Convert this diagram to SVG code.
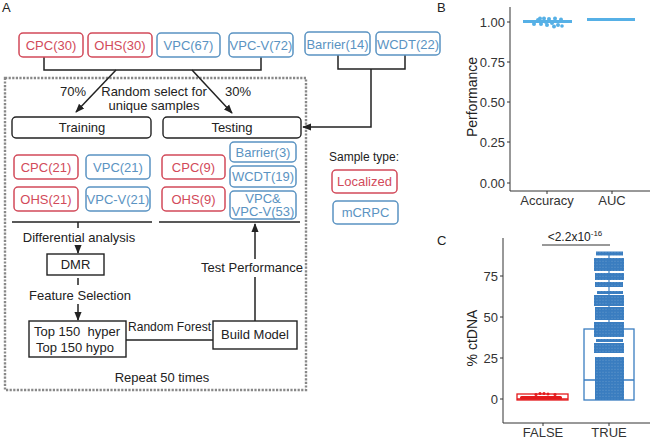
<svg xmlns="http://www.w3.org/2000/svg" width="650" height="439" viewBox="0 0 650 439">
<style>
text{font-family:"Liberation Sans",Arial,sans-serif;fill:#222}
.t13{font-size:13px}
.t12{font-size:12px}
.mid{text-anchor:middle}
.end{text-anchor:end}
.rb{fill:#fff;stroke:#d24a5a;stroke-width:1.5}
.bb{fill:#fff;stroke:#5a93c2;stroke-width:1.5}
.rt{fill:#d24a5a;font-size:13px;text-anchor:middle}
.bt{fill:#5a93c2;font-size:13px;text-anchor:middle}
.kb{fill:#fff;stroke:#222;stroke-width:1.4}
.ln{fill:none;stroke:#222;stroke-width:1.5}
.ax{fill:none;stroke:#333;stroke-width:1}
.tk{fill:#333;font-size:13px}
</style>
<defs>
<marker id="ah" viewBox="0 0 10 10" refX="9" refY="5" markerWidth="6" markerHeight="6" orient="auto-start-reverse">
<path d="M0 1 L10 5 L0 9 z" fill="#222"/>
</marker>
<pattern id="dots" width="3" height="3" patternUnits="userSpaceOnUse">
<circle cx="1.5" cy="1.5" r="1.9" fill="#3a7dc0"/>
</pattern>
</defs>

<text x="2" y="12" class="t13">A</text>
<text x="437" y="12" class="t13">B</text>
<text x="437" y="245" class="t13">C</text>

<!-- dotted frame -->
<rect x="5" y="78" width="301" height="312" fill="none" stroke="#888" stroke-width="2.4" stroke-dasharray="2.2 1.4"/>

<g id="connectors">
<path class="ln" d="M44 57 V70 H261 V57"/>
<path class="ln" d="M116 70 L76 112" marker-end="url(#ah)"/>
<path class="ln" d="M192 70 L232 113" marker-end="url(#ah)"/>
<path class="ln" d="M338 55 V69 H405 V55"/>
<path class="ln" d="M371 69 V127 H303" marker-end="url(#ah)"/>
<path class="ln" d="M12 222 H152"/>
<path class="ln" d="M159 222 H300"/>
<path class="ln" d="M78 222 V228"/>
<path class="ln" d="M78 245 V253" marker-end="url(#ah)"/>
<path class="ln" d="M78 278 V285"/>
<path class="ln" d="M78 304 V320" marker-end="url(#ah)"/>
<path class="ln" d="M126 340 H213"/>
<path class="ln" d="M255 321 V277"/>
<path class="ln" d="M255 259 V224" marker-end="url(#ah)"/>
</g>

<g id="cpc30"><rect class="rb" x="19" y="33" width="64" height="24" rx="4"/><text class="rt" x="51" y="50">CPC(30)</text></g>
<g id="ohs30"><rect class="rb" x="88" y="33" width="64" height="24" rx="4"/><text class="rt" x="120" y="50">OHS(30)</text></g>
<g id="vpc67"><rect class="bb" x="157" y="33" width="63" height="24" rx="4"/><text class="bt" x="188.5" y="50">VPC(67)</text></g>
<g id="vpcv72"><rect class="bb" x="229" y="33" width="64" height="24" rx="4"/><text class="bt" x="261" y="50">VPC-V(72)</text></g>
<g id="barrier14"><rect class="bb" x="305" y="32" width="65" height="23" rx="4"/><text class="bt" x="337.5" y="48.5">Barrier(14)</text></g>
<g id="wcdt22"><rect class="bb" x="376" y="32" width="64" height="23" rx="4"/><text class="bt" x="408" y="48.5">WCDT(22)</text></g>

<g id="labels-split">
<text class="t13 mid" x="73" y="96">70%</text>
<text class="t13 mid" x="154" y="96">Random select for</text>
<text class="t13 mid" x="154" y="110">unique samples</text>
<text class="t13 mid" x="238" y="96">30%</text>
</g>

<g id="training"><rect class="kb" x="12" y="117" width="139" height="21" rx="4"/><text class="t13 mid" x="82" y="132">Training</text></g>
<g id="testing"><rect class="kb" x="163" y="117" width="138" height="21" rx="4"/><text class="t13 mid" x="232" y="132">Testing</text></g>

<g id="cpc21"><rect class="rb" x="14" y="155" width="64" height="24" rx="4"/><text class="rt" x="46" y="171.5">CPC(21)</text></g>
<g id="vpc21"><rect class="bb" x="86" y="155" width="64" height="24" rx="4"/><text class="bt" x="118" y="171.5">VPC(21)</text></g>
<g id="ohs21"><rect class="rb" x="14" y="187" width="64" height="24" rx="4"/><text class="rt" x="46" y="203.5">OHS(21)</text></g>
<g id="vpcv21"><rect class="bb" x="86" y="187" width="64" height="24" rx="4"/><text class="bt" x="118" y="203.5">VPC-V(21)</text></g>
<g id="cpc9"><rect class="rb" x="162" y="155" width="63" height="24" rx="4"/><text class="rt" x="193.5" y="171.5">CPC(9)</text></g>
<g id="ohs9"><rect class="rb" x="162" y="187" width="63" height="24" rx="4"/><text class="rt" x="193.5" y="203.5">OHS(9)</text></g>
<g id="barrier3"><rect class="bb" x="230" y="142" width="66" height="20" rx="4"/><text class="bt" x="263" y="156.5">Barrier(3)</text></g>
<g id="wcdt19"><rect class="bb" x="230" y="166" width="66" height="21" rx="4"/><text class="bt" x="263" y="181">WCDT(19)</text></g>
<g id="vpcmix53"><rect class="bb" x="230" y="191" width="66" height="28" rx="4"/><text class="bt" x="263" y="202.5" font-size="12">VPC&amp;</text><text class="bt" x="263" y="216" font-size="12">VPC-V(53)</text></g>

<g id="diffanalysis"><text class="t13 mid" x="79" y="242">Differential analysis</text></g>
<g id="dmr"><rect class="kb" x="47" y="254" width="57" height="21"/><text class="t13 mid" x="75.5" y="269">DMR</text></g>
<g id="featsel"><text class="t13 mid" x="80" y="300">Feature Selection</text></g>
<g id="top150"><rect class="kb" x="29" y="321" width="97" height="36"/><text class="t13 mid" x="77" y="336" xml:space="preserve">Top 150  hyper</text><text class="t13 mid" x="75" y="352">Top 150 hypo</text></g>
<g id="rf"><text class="t13" x="128" y="331" textLength="83" lengthAdjust="spacingAndGlyphs">Random Forest</text></g>
<g id="buildmodel"><rect class="kb" x="213" y="321" width="84" height="28"/><text class="t13 mid" x="255" y="339">Build Model</text></g>
<g id="testperf"><text class="t13 mid" x="252" y="272">Test Performance</text></g>
<g id="repeat"><text class="t13 mid" x="162" y="382">Repeat 50 times</text></g>

<g id="legend">
<text class="t12" x="329" y="161">Sample type:</text>
<rect class="rb" x="332" y="170" width="65" height="23" rx="4"/><text class="rt" x="364.5" y="186">Localized</text>
<rect class="bb" x="333" y="201" width="65" height="23" rx="4"/><text class="bt" x="365.5" y="217">mCRPC</text>
</g>

<!-- Panel B -->
<g id="panelB">
<path class="ax" d="M510 7 V191 H650"/>
<path class="ax" d="M507 22 H510 M507 62 H510 M507 102 H510 M507 142 H510 M507 183 H510 M547 191 V194 M612 191 V194"/>
<text class="tk end" x="505" y="26.5">1.00</text>
<text class="tk end" x="505" y="66.5">0.75</text>
<text class="tk end" x="505" y="106.5">0.50</text>
<text class="tk end" x="505" y="146.5">0.25</text>
<text class="tk end" x="505" y="187.5">0.00</text>
<text class="tk mid" x="547" y="205">Accuracy</text>
<text class="tk mid" x="612" y="205">AUC</text>
<text class="mid" font-size="14" fill="#222" transform="translate(477 97) rotate(-90)">Performance</text>
<path d="M523 21.5 H572" stroke="#56b0e6" stroke-width="3" fill="none"/>
<g fill="#56b0e6">
<circle cx="534" cy="24" r="2"/><circle cx="538" cy="20" r="2"/><circle cx="541" cy="24" r="2"/><circle cx="544" cy="18.5" r="2"/>
<circle cx="547" cy="25" r="2"/><circle cx="549" cy="19" r="2"/><circle cx="552" cy="23" r="2"/><circle cx="555" cy="18.5" r="2"/>
<circle cx="558" cy="25" r="2"/><circle cx="561" cy="19.5" r="2"/><circle cx="554" cy="26.5" r="2"/><circle cx="540" cy="18.5" r="2"/>
<circle cx="562" cy="26" r="1.8"/><circle cx="546" cy="22" r="2"/>
</g>
<path d="M587 19.5 H635" stroke="#56b0e6" stroke-width="3" fill="none"/>
</g>

<!-- Panel C -->
<g id="panelC">
<path class="ax" d="M503 238 V423 H650"/>
<path class="ax" d="M500 276 H503 M500 317 H503 M500 358 H503 M500 399 H503 M543 423 V426 M609 423 V426"/>
<text class="tk end" x="498" y="280.5">75</text>
<text class="tk end" x="498" y="321.5">50</text>
<text class="tk end" x="498" y="362.5">25</text>
<text class="tk end" x="498" y="403.5">0</text>
<text class="tk mid" x="543" y="437">FALSE</text>
<text class="tk mid" x="609" y="437">TRUE</text>
<text class="mid" font-size="14" fill="#222" transform="translate(477 338) rotate(-90)">% ctDNA</text>
<path class="ax" d="M542 245 H610" stroke-width="1.2"/>
<text class="t12 mid" x="575" y="241">&lt;2.2x10<tspan font-size="8" dy="-5">-16</tspan></text>
<!-- FALSE -->
<rect x="517" y="394" width="51" height="6" fill="none" stroke="#e41a1c" stroke-width="1.3"/>
<path d="M517 399 H568" stroke="#e41a1c" stroke-width="1.5"/>
<g fill="#e41a1c">
<rect x="520" y="396" width="42" height="3.5" rx="1.5"/>
<circle cx="540" cy="393.5" r="1.6"/><circle cx="544" cy="393.5" r="1.6"/><circle cx="548" cy="394" r="1.6"/><circle cx="536" cy="394.5" r="1.6"/><circle cx="555" cy="394.5" r="1.6"/>
</g>
<!-- TRUE -->
<path d="M609 329 V253" stroke="#3a7dc0" stroke-width="1.2"/>
<g fill="url(#dots)">
<rect x="596" y="251.5" width="27" height="4"/>
<rect x="594" y="258" width="30" height="13"/>
<rect x="595" y="273" width="29" height="7"/>
<rect x="595" y="282" width="28" height="5"/>
<rect x="597" y="291" width="26" height="3"/>
<rect x="594" y="295" width="30" height="11"/>
<rect x="595" y="307" width="29" height="13"/>
<rect x="594" y="322" width="30" height="15"/>
<rect x="596" y="339" width="27" height="3"/>
<rect x="594" y="343" width="30" height="10"/>
<rect x="595" y="357" width="29" height="43"/>
</g>
<rect x="584" y="329" width="50" height="71" fill="none" stroke="#3a7dc0" stroke-width="1.3"/>
<path d="M584 380 H634" stroke="#3a7dc0" stroke-width="1.5"/>
</g>
</svg>
